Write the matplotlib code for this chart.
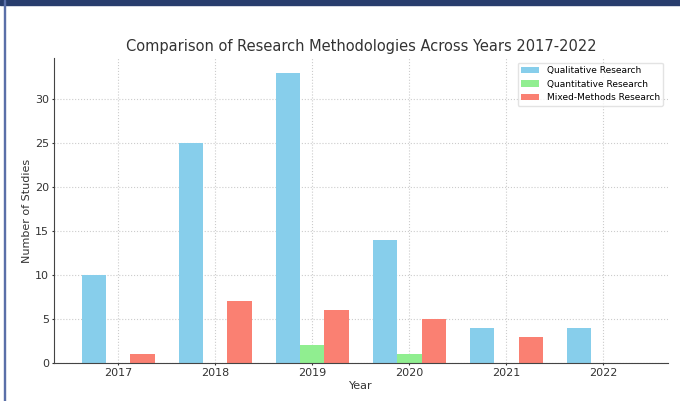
import matplotlib
matplotlib.use("Agg")
import matplotlib.pyplot as plt
import numpy as np
from matplotlib.patches import Rectangle

years = ["2017", "2018", "2019", "2020", "2021", "2022"]
qualitative = [10, 25, 33, 14, 4, 4]
quantitative = [0, 0, 2, 1, 0, 0]
mixed = [1, 7, 6, 5, 3, 0]
series_names = ["Qualitative Research", "Quantitative Research", "Mixed-Methods Research"]
colors = ["skyblue", "lightgreen", "salmon"]

fig = plt.figure(figsize=(6.8, 4.01), dpi=100)
ax = fig.add_axes([0.0794, 0.0948, 0.9026, 0.7602])

x = np.arange(len(years))
w = 0.25
for i, (vals, name, c) in enumerate(zip([qualitative, quantitative, mixed], series_names, colors)):
    ax.bar(x + (i - 1) * w, vals, w, label=name, color=c, zorder=2)

ax.set_xticks(x)
ax.set_xticklabels(years)
ax.set_yticks([0, 5, 10, 15, 20, 25, 30])
ax.tick_params(labelsize=8, colors="#333333", length=1.5, pad=2)
ax.set_xlabel("Year", fontsize=8, color="#333333", labelpad=2)
ax.set_ylabel("Number of Studies", fontsize=8, color="#333333", labelpad=2)
ax.set_title("Comparison of Research Methodologies Across Years 2017-2022",
             fontsize=10.5, color="#333333", pad=5)
ax.grid(True, linestyle=":", color="#cccccc", linewidth=0.8, zorder=0)
ax.set_axisbelow(True)
for s in ["top", "right"]:
    ax.spines[s].set_visible(False)
for s in ["left", "bottom"]:
    ax.spines[s].set_color("#444444")
ax.legend(loc="upper right", fontsize=6.5, frameon=True, edgecolor="#dddddd")

# frame decoration
fig.patches.append(Rectangle((0, 1 - 5 / 401), 1, 5 / 401, transform=fig.transFigure,
                             color="#283d6d", zorder=10))
fig.patches.append(Rectangle((4 / 680, 0), 1.5 / 680, 1, transform=fig.transFigure,
                             color="#5a6fa8", zorder=10))

fig.savefig("out.png", dpi=100)
